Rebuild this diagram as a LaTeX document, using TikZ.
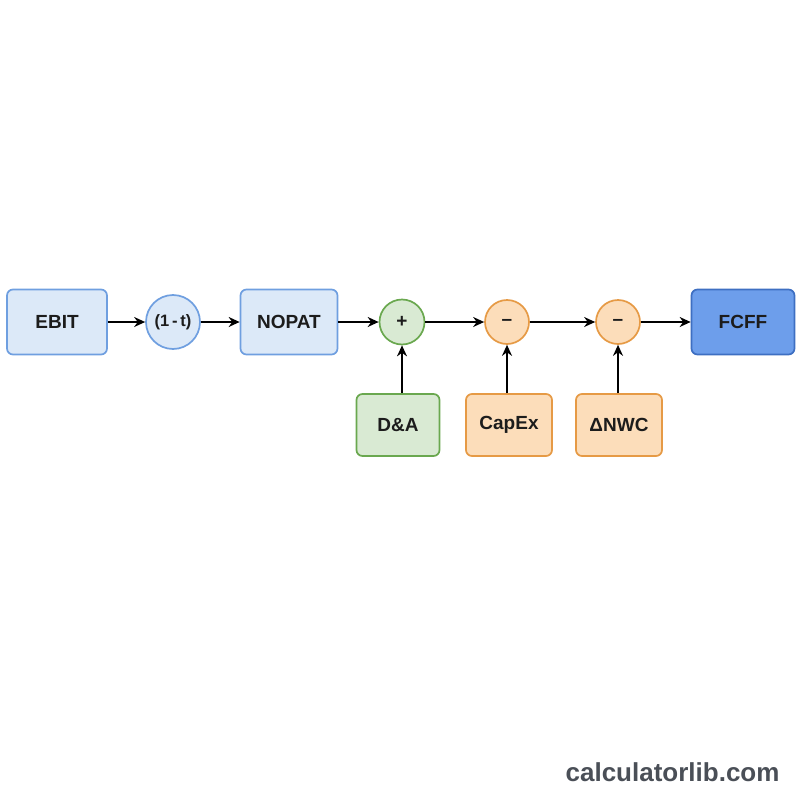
\documentclass[tikz,border=0pt]{standalone}
\usepackage{fontspec}
\setmainfont{Liberation Sans}
\usetikzlibrary{arrows.meta}
\definecolor{boxblue}{HTML}{DCE9F8}
\definecolor{lineblue}{HTML}{6F9FE0}
\definecolor{darkblue}{HTML}{6D9EEB}
\definecolor{deepblue}{HTML}{3E6FC2}
\definecolor{boxgreen}{HTML}{D9EAD3}
\definecolor{linegreen}{HTML}{6AA84F}
\definecolor{boxorange}{HTML}{FCDDBA}
\definecolor{lineorange}{HTML}{E69A45}
\definecolor{markgray}{HTML}{4A4F57}
\definecolor{inkgray}{HTML}{1C1C1C}
\tikzset{
  block/.style={draw, line width=1.7pt, rounded corners=6pt, minimum height=65pt, text=inkgray, font=\fontsize{19}{22}\selectfont\bfseries},
  op/.style={draw, line width=1.7pt, circle, text=inkgray, font=\fontsize{19}{22}\selectfont\bfseries, inner sep=0pt},
  flow/.style={-{Stealth[length=11pt,width=10pt]}, line width=1.6pt}
}
\begin{document}
\begin{tikzpicture}[x=1pt, y=-1pt]
      \useasboundingbox (0,0) rectangle (800,800);
      \node[block, fill=boxblue, draw=lineblue, minimum width=100pt] (ebit) at (57,322) {EBIT};
      \node[op, fill=boxblue, draw=lineblue, minimum size=54pt, font=\fontsize{16.5}{20}\selectfont\bfseries] (tax) at (173,322) {(1\,-\,t)};
      \node[block, fill=boxblue, draw=lineblue, minimum width=97pt] (nopat) at (289,322) {NOPAT};
      \node[op, fill=boxgreen, draw=linegreen, minimum size=45pt] (plus) at (402,322) {+};
      \node[op, fill=boxorange, draw=lineorange, minimum size=44pt] (minusa) at (507,322) {--};
      \node[op, fill=boxorange, draw=lineorange, minimum size=44pt] (minusb) at (618,322) {--};
      \node[block, fill=darkblue, draw=deepblue, minimum width=103pt] (fcff) at (743,322) {FCFF};
      \node[block, fill=boxgreen, draw=linegreen, minimum width=83pt, minimum height=62pt] (da) at (398,425) {D\&A};
      \node[block, fill=boxorange, draw=lineorange, minimum width=86pt, minimum height=62pt] (capex) at (509,425) {CapEx};
      \node[block, fill=boxorange, draw=lineorange, minimum width=86pt, minimum height=62pt] (nwc) at (619,425) {ΔNWC};
      \draw[flow] (ebit) -- (tax);
      \draw[flow] (tax) -- (nopat);
      \draw[flow] (nopat) -- (plus);
      \draw[flow] (plus) -- (minusa);
      \draw[flow] (minusa) -- (minusb);
      \draw[flow] (minusb) -- (fcff);
      \draw[flow] (da.north -| plus) -- (plus);
      \draw[flow] (capex.north -| minusa) -- (minusa);
      \draw[flow] (nwc.north -| minusb) -- (minusb);
      \node[anchor=east, text=markgray, font=\fontsize{26}{30}\selectfont\bfseries] (site) at (783,772) {calculatorlib.com};
    \end{tikzpicture}
\end{document}
